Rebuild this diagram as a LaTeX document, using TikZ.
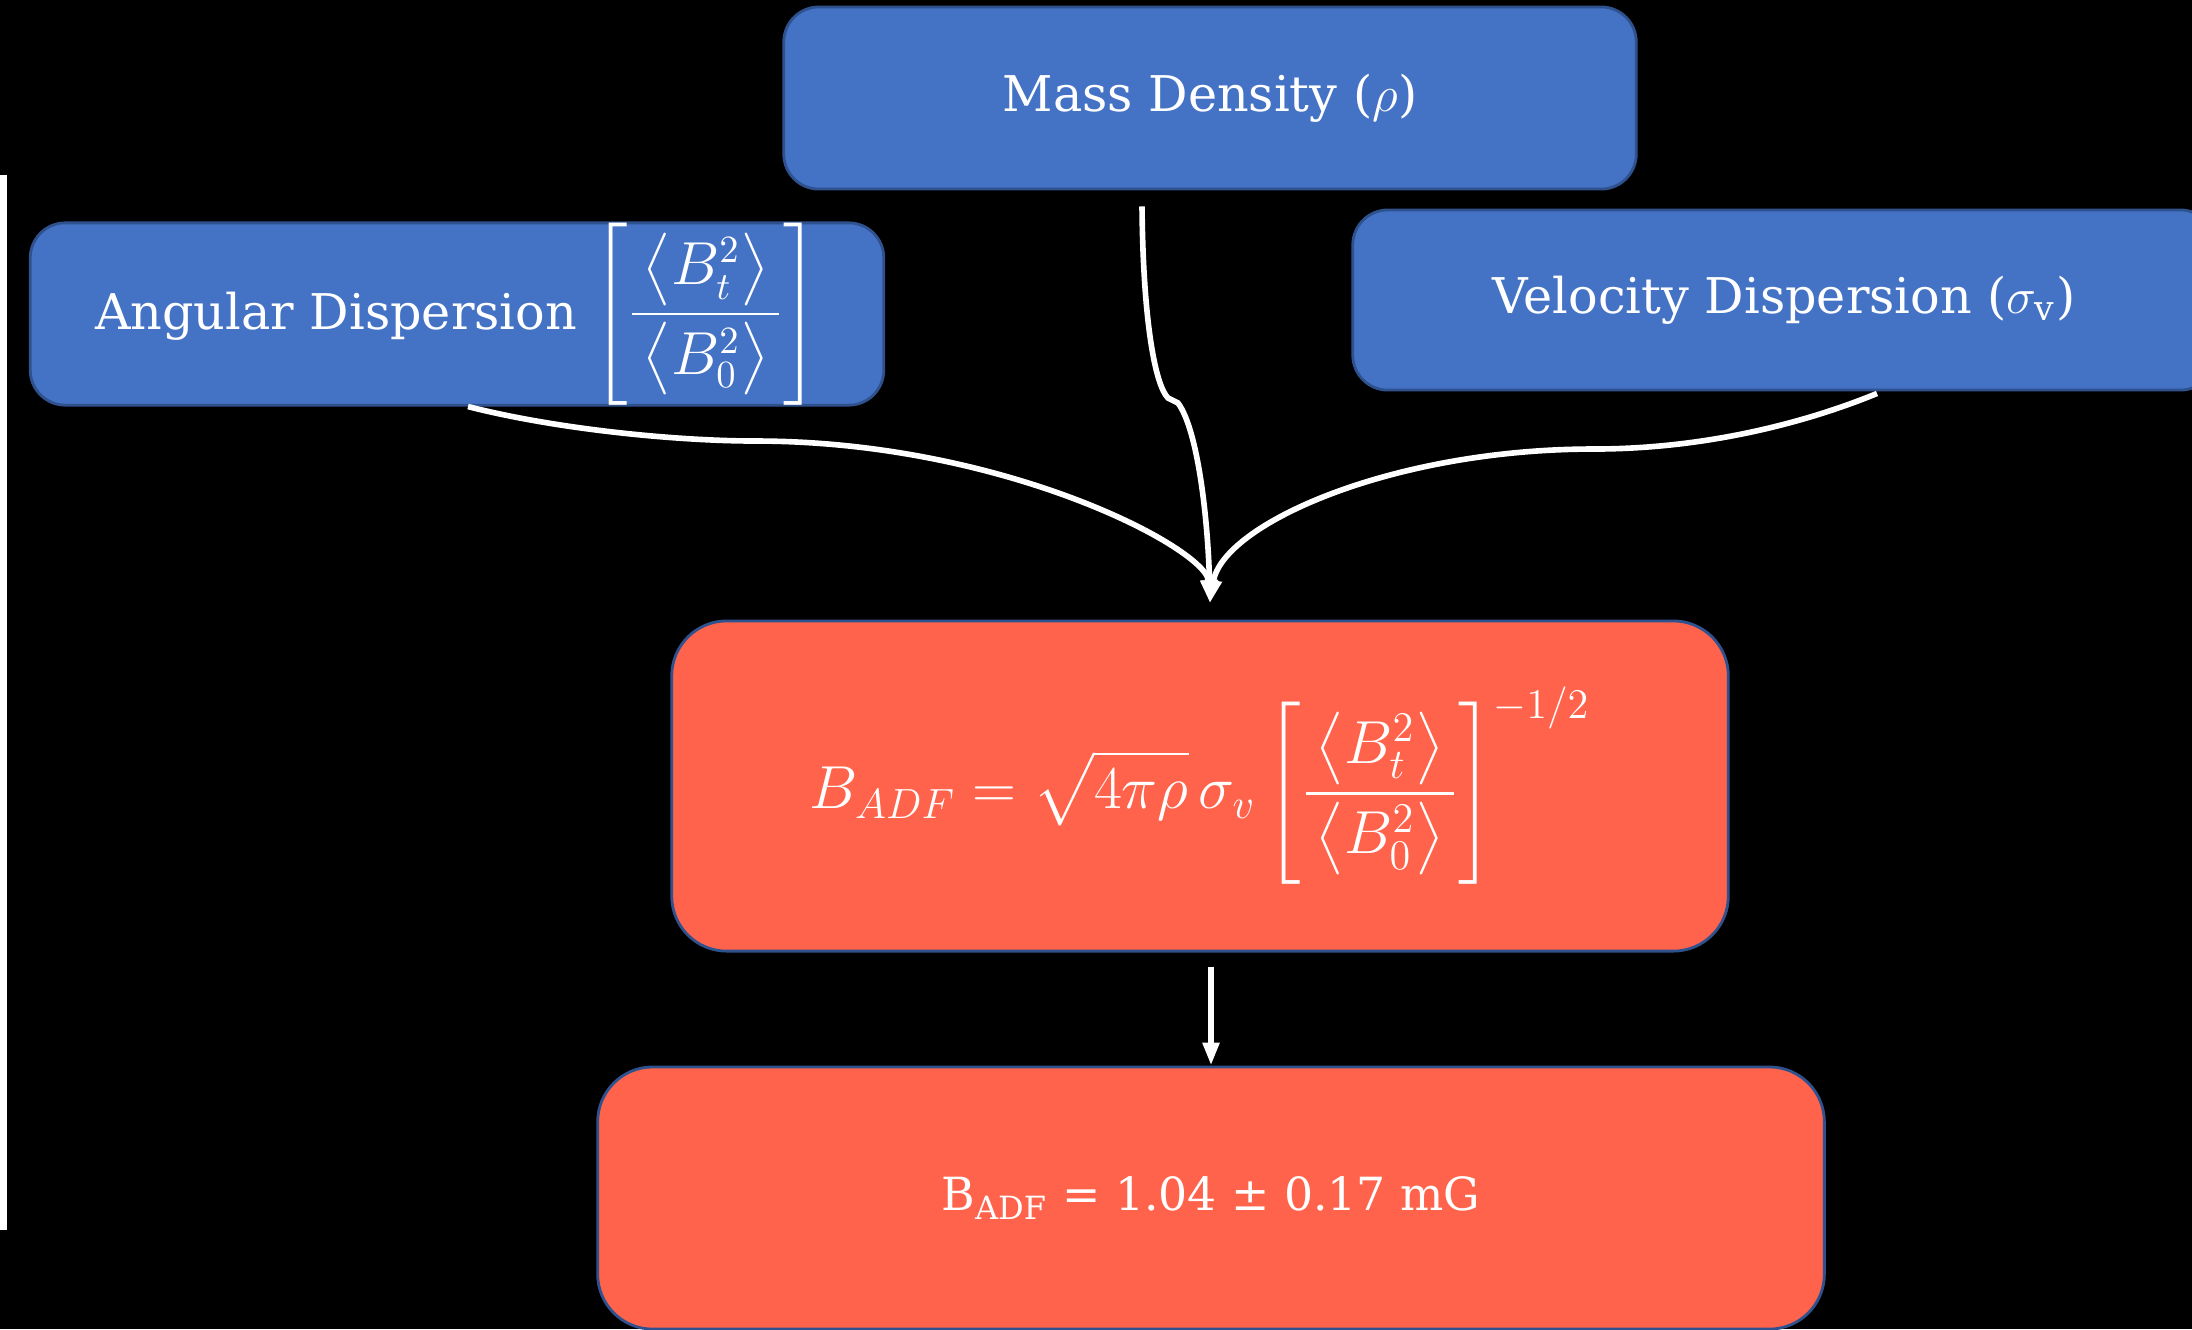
\documentclass[tikz,border=0pt]{standalone}
\usepackage{amsmath}
\usepackage[no-math]{fontspec}
\setmainfont{DejaVu Serif}
\usetikzlibrary{arrows.meta,calc}
\definecolor{boxblue}{HTML}{4472C4}
\definecolor{boxedge}{HTML}{2F528F}
\definecolor{boxred}{HTML}{FF634B}
\newcommand{\ratiofrac}{\left[\frac{\,\bigl\langle B_t^2\bigr\rangle\,}{\,\bigl\langle B_0^2\bigr\rangle\,}\right]}
\begin{document}
\begin{tikzpicture}[x=0.01cm,y=-0.01cm,
  bluebox/.style={draw=boxedge, line width=0.8pt, fill=boxblue, rounded corners=0.35cm,
    text=white, inner sep=0pt, font=\fontsize{14}{17}\selectfont},
  redbox/.style={draw=boxedge, line width=0.8pt, fill=boxred, rounded corners=0.55cm,
    text=white, inner sep=0pt},
  link/.style={draw=white, line width=1.6pt, -{Triangle[width=4.5pt,length=6.5pt]}},
]
\clip (0,0) rectangle (2192,1329);
\fill[black] (0,0) rectangle (2192,1329);
\fill[white] (0,175) rectangle (7,1230);

\node[bluebox, minimum width=8.52cm, minimum height=1.82cm] (mass) at (1210,98)
  {Mass Density ($\rho$)};
\node[bluebox, minimum width=8.53cm, minimum height=1.81cm] (ang) at (457,314)
  {Angular Dispersion {\fontsize{16}{18}\selectfont$\displaystyle\ratiofrac$}};
\node[bluebox, minimum width=8.62cm, minimum height=1.80cm] (vel) at (1784,300)
  {Velocity Dispersion ($\sigma_{\text{v}}$)};
\node[redbox, minimum width=10.56cm, minimum height=3.30cm] (formula) at (1200,786)
  {\fontsize{17.5}{21}\selectfont$\displaystyle B_{ADF} = \sqrt{4\pi\rho}\,\sigma_v \ratiofrac^{-1/2}$};
\node[redbox, minimum width=12.26cm, minimum height=2.62cm, font=\fontsize{13}{16}\selectfont] (result) at (1211,1198)
  {B\textsubscript{ADF} = 1.04 ± 0.17 mG};

\coordinate (tip) at (1210,603);
\draw[link] ($(ang.south)+(11,0)$) .. controls (560,430) and (680,441) .. (755,441)
  .. controls (1005,441) and (1207,549) .. (tip);
\draw[link] ($(mass.south)+(-68,16)$) .. controls (1143,320) and (1155,385) .. (1168,398)
  -- (1178,403) .. controls (1198,430) and (1208,520) .. (tip);
\draw[link] ($(vel.south)+(93,2)$) .. controls (1800,425) and (1700,449) .. (1594,449)
  .. controls (1390,449) and (1222,525) .. (tip);
\draw[link] ($(formula.south)+(11,14)$) -- (result.north);
\end{tikzpicture}
\end{document}
